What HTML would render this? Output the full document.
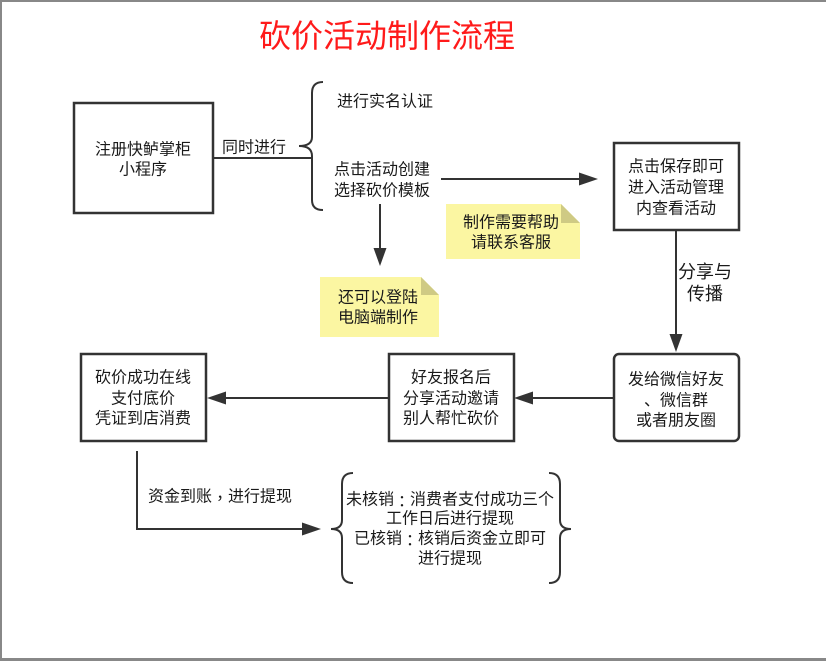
<!DOCTYPE html>
<html><head><meta charset="utf-8"><style>
html,body{margin:0;padding:0;background:#fff;}
body{width:826px;height:661px;overflow:hidden;position:relative;}
svg{position:absolute;left:0;top:0;}
text{font-family:"Liberation Sans","Noto Sans CJK SC",sans-serif;font-size:16px;fill:#1a1a1a;text-anchor:middle;dominant-baseline:central;}
.p{font-family:"Noto Sans CJK TC",sans-serif;}
</style></head><body>
<svg width="826" height="661" viewBox="0 0 826 661" xmlns="http://www.w3.org/2000/svg">
<rect x="0" y="0" width="826" height="661" fill="#fff"/>
<!-- frame -->
<rect x="0" y="0" width="826" height="2" fill="#888"/>
<rect x="0" y="0" width="2" height="661" fill="#888"/>
<rect x="0" y="658" width="826" height="3" fill="#888"/>

<!-- title -->
<text x="387" y="36" style="font-size:32px;fill:#ff1a1a">砍价活动制作流程</text>

<g fill="none" stroke="#333" stroke-width="2.5">
<rect x="74" y="103" width="139" height="110"/>
<rect x="614" y="143" width="125" height="87"/>
<rect x="614" y="354" width="125" height="87" rx="5"/>
<rect x="389" y="354" width="125" height="87"/>
<rect x="81" y="354" width="125" height="87"/>
</g>

<g fill="none" stroke="#333" stroke-width="2">
<line x1="213" y1="158" x2="311" y2="158"/>
<path d="M323,82 Q312,82 312,93 L312,137 Q312,146 299,146 Q312,146 312,156 L312,200 Q312,210 323,210"/>
<line x1="441" y1="179" x2="582" y2="179"/>
<line x1="380" y1="204" x2="380" y2="250"/>
<line x1="676" y1="230" x2="676" y2="336"/>
<line x1="614" y1="398" x2="530" y2="398"/>
<line x1="389" y1="398" x2="222" y2="398"/>
<polyline points="137,451 137,529 305,529"/>
<path d="M353,473 Q342,473 342,484 L342,520 Q342,529 331,529 Q342,529 342,538 L342,572 Q342,583 353,583"/>
<path d="M549,473 Q560,473 560,484 L560,520 Q560,529 571,529 Q560,529 560,538 L560,572 Q560,583 549,583"/>
</g>

<g fill="#333" stroke="none">
<polygon points="598,179 579,172.5 579,185.5"/>
<polygon points="380,266 373.5,248 386.5,248"/>
<polygon points="676,352 669.5,334 682.5,334"/>
<polygon points="514,398 533,391.5 533,404.5"/>
<polygon points="207,398 226,391.5 226,404.5"/>
<polygon points="321,529 302,522.5 302,535.5"/>
</g>

<!-- notes -->
<polygon points="446,204 561,204 580,223 580,259 446,259" fill="#fbf6a2"/>
<polygon points="561,204 580,223 561,223" fill="#cfca84"/>
<polygon points="320,277 421,277 439,295 439,337 320,337" fill="#fbf6a2"/>
<polygon points="421,277 439,295 421,295" fill="#cfca84"/>

<!-- texts -->
<text x="143" y="150">注册快鲈掌柜</text>
<text x="143" y="170">小程序</text>
<text x="254" y="148">同时进行</text>
<text x="385" y="102">进行实名认证</text>
<text x="382" y="170">点击活动创建</text>
<text x="382" y="191">选择砍价模板</text>

<text x="676" y="167">点击保存即可</text>
<text x="676" y="188">进入活动管理</text>
<text x="676" y="209">内查看活动</text>

<text x="511" y="223">制作需要帮助</text>
<text x="511" y="243">请联系客服</text>

<text x="378" y="298">还可以登陆</text>
<text x="378" y="318">电脑端制作</text>

<text x="705" y="272" style="font-size:18px">分享与</text>
<text x="705" y="294" style="font-size:18px">传播</text>

<text x="676" y="380">发给微信好友</text>
<text x="676" y="401">、微信群</text>
<text x="676" y="421">或者朋友圈</text>

<text x="451" y="378">好友报名后</text>
<text x="451" y="399">分享活动邀请</text>
<text x="451" y="419">别人帮忙砍价</text>

<text x="143" y="378">砍价成功在线</text>
<text x="143" y="399">支付底价</text>
<text x="143" y="419">凭证到店消费</text>

<text x="220" y="497">资金到账<tspan class="p">，</tspan>进行提现</text>

<text x="450" y="500">未核销<tspan class="p">：</tspan>消费者支付成功三个</text>
<text x="450" y="519">工作日后进行提现</text>
<text x="450" y="539">已核销<tspan class="p">：</tspan>核销后资金立即可</text>
<text x="450" y="559">进行提现</text>
</svg>
</body></html>
